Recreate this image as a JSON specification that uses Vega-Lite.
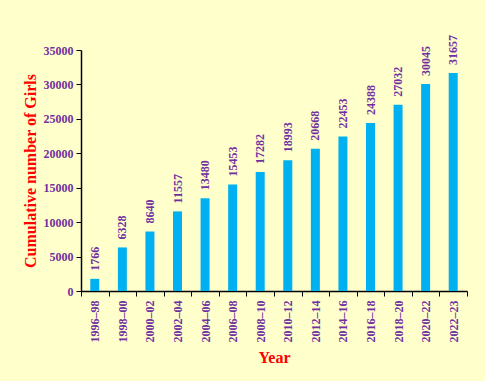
{
  "$schema": "https://vega.github.io/schema/vega-lite/v6.json",
  "autosize": {"type": "none"},
  "width": 386,
  "height": 241,
  "padding": {"left": 81, "top": 50, "right": 18, "bottom": 90},
  "background": "#FFFFCC",
  "config": {"view": {"stroke": null}},
  "data": {"values": [
    {"year": "1996–98", "girls": 1766},
    {"year": "1998–00", "girls": 6328},
    {"year": "2000–02", "girls": 8640},
    {"year": "2002–04", "girls": 11557},
    {"year": "2004–06", "girls": 13480},
    {"year": "2006–08", "girls": 15453},
    {"year": "2008–10", "girls": 17282},
    {"year": "2010–12", "girls": 18993},
    {"year": "2012–14", "girls": 20668},
    {"year": "2014–16", "girls": 22453},
    {"year": "2016–18", "girls": 24388},
    {"year": "2018–20", "girls": 27032},
    {"year": "2020–22", "girls": 30045},
    {"year": "2022–23", "girls": 31657}
  ]},
  "encoding": {
    "x": {"field": "year", "type": "nominal", "sort": null,
      "scale": {"paddingInner": 0, "paddingOuter": 0},
      "axis": {"title": "Year", "labelAngle": -90, "labelAlign": "right", "labelBaseline": "middle",
        "labelFont": "Liberation Serif", "labelFontSize": 12, "labelFontWeight": "bold", "labelColor": "#7030A0",
        "labelPadding": 4,
        "titleFont": "Liberation Serif", "titleFontSize": 16, "titleFontWeight": "bold", "titleColor": "#FF0000",
        "titlePadding": 7,
        "domainColor": "#000000", "domainWidth": 1.5, "tickColor": "#000000", "tickBand": "extent", "tickSize": 5}},
    "y": {"field": "girls", "type": "quantitative",
      "scale": {"domain": [0, 35000], "nice": false},
      "axis": {"title": "Cumulative number of Girls", "values": [0,5000,10000,15000,20000,25000,30000,35000],
        "format": "d", "grid": false,
        "labelFont": "Liberation Serif", "labelFontSize": 12, "labelFontWeight": "bold", "labelColor": "#7030A0",
        "labelPadding": 3,
        "titleFont": "Liberation Serif", "titleFontSize": 16, "titleFontWeight": "bold", "titleColor": "#FF0000",
        "titlePadding": 5,
        "domainColor": "#000000", "domainWidth": 1.5, "tickColor": "#000000", "tickSize": 5}}
  },
  "layer": [
    {"mark": {"type": "bar", "color": "#00B0F0", "size": 9}},
    {"mark": {"type": "text", "angle": 270, "align": "left", "baseline": "middle", "dx": 8,
      "font": "Liberation Serif", "fontSize": 12, "fontWeight": "bold", "color": "#7030A0"},
      "encoding": {"text": {"field": "girls", "type": "quantitative", "format": "d"}}}
  ]
}
